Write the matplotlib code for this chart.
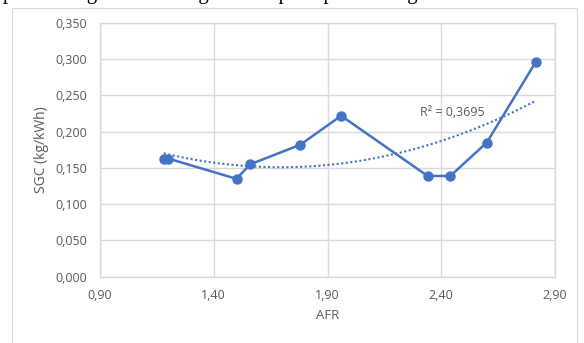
import numpy as np
import matplotlib
matplotlib.use("Agg")
import matplotlib.pyplot as plt
from matplotlib.patches import Rectangle

afr = [1.18, 1.20, 1.50, 1.56, 1.78, 1.96, 2.34, 2.44, 2.60, 2.815]
sgc = [0.163, 0.163, 0.135, 0.155, 0.182, 0.222, 0.139, 0.139, 0.185, 0.296]
xticks = [0.90, 1.40, 1.90, 2.40, 2.90]
yticks = [0.000, 0.050, 0.100, 0.150, 0.200, 0.250, 0.300, 0.350]
r2_label = "R² = 0,3695"

blue = "#4472C4"
gray = "#595959"
font = "Open Sans"

fig = plt.figure(figsize=(5.84, 3.43), dpi=100)
fig.patch.set_facecolor("white")

# outer chart frame
fig.patches.append(Rectangle((12/584, -0.05), (577-12)/584, 1.05 - 8/343,
                             transform=fig.transFigure, fill=False,
                             edgecolor="#D9D9D9", linewidth=0.8))
# clipped caption text at top (only its lower part is visible)
fig.text(0.005, 1 + 0.5/343, "perbandingan SGC dengan AFR pada perbandingan udara",
         family="Liberation Serif", fontsize=15, color="black", va="baseline")

ax = fig.add_axes([100/584, 1 - 276.7/343, 455/584, (276.7 - 23)/343])
ax.plot(afr, sgc, color=blue, linewidth=1.8, marker="o", markersize=6.5, zorder=3)

coef = np.polyfit(afr, sgc, 2)
xs = np.linspace(min(afr), max(afr), 200)
ax.plot(xs, np.polyval(coef, xs), color=blue, linestyle=(0, (1, 1.2)), linewidth=1.5, zorder=2)
ax.text(2.447, 0.226, r2_label, fontsize=9, color=gray, family=font, ha="center", va="center")

ax.set_xlim(0.90, 2.90)
ax.set_ylim(0, 0.350)
ax.set_xticks(xticks)
ax.set_yticks(yticks)
ax.set_xticklabels([f"{v:.2f}".replace(".", ",") for v in xticks], fontsize=9, color=gray, family=font)
ax.set_yticklabels([f"{v:.3f}".replace(".", ",") for v in yticks], fontsize=9, color=gray, family=font)
ax.tick_params(axis="x", length=0, pad=9)
ax.tick_params(axis="y", length=0, pad=9)
ax.grid(True, color="#D9D9D9", linewidth=1.0)
ax.set_axisbelow(True)
for s in ax.spines.values():
    s.set_color("#D9D9D9")
    s.set_linewidth(1.0)
ax.set_xlabel("AFR", fontsize=9.5, color=gray, family=font, labelpad=5)
ax.set_ylabel("SGC (kg/kWh)", fontsize=10, color=gray, family=font, labelpad=5)

fig.savefig("out.png", dpi=100)
